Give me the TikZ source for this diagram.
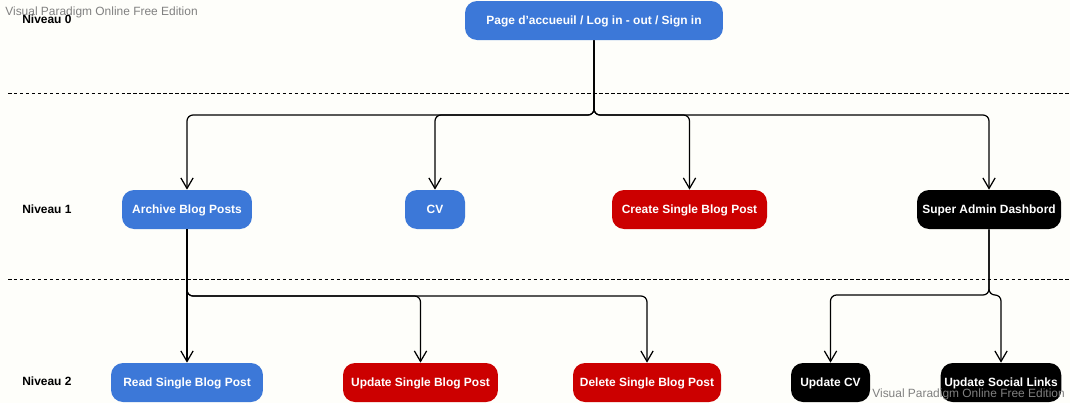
\documentclass[tikz,border=0pt]{standalone}
\usepackage{fontspec}
\setmainfont{Liberation Sans}
\usetikzlibrary{arrows.meta,positioning}
\definecolor{vpblue}{RGB}{60,120,216}
\definecolor{vpred}{RGB}{204,0,0}
\definecolor{vpback}{RGB}{254,254,250}
\definecolor{vpgray}{RGB}{128,128,128}

\begin{document}
\begin{tikzpicture}[x=0.02cm, y=-0.02cm,
  page/.style={rectangle, rounded corners=0.24cm, text=white, font=\fontsize{6.8}{8}\selectfont\bfseries, minimum height=0.78cm, inner xsep=2pt, text height=4.9pt, text depth=0pt},
  bluepage/.style={page, fill=vpblue},
  redpage/.style={page, fill=vpred},
  blackpage/.style={page, fill=black},
  level/.style={anchor=west, inner sep=0pt, font=\fontsize{6.8}{8}\selectfont\bfseries},
  watermark/.style={anchor=west, inner sep=0pt, text=vpgray, font=\fontsize{6.8}{8}\selectfont},
  separator/.style={line width=0.5pt, dash pattern=on 2pt off 1.4pt},
  arrow/.style={line width=0.7pt, -{Straight Barb[length=6pt,width=7pt]}, rounded corners=0.12cm}
]
  \useasboundingbox[fill=vpback] (0,0) rectangle (1070,403);

  % levels
  \node[level] (niv0) at (22,19) {Niveau 0};
  \node[level] (niv1) at (22,209) {Niveau 1};
  \node[level] (niv2) at (22,381) {Niveau 2};
  \draw[separator] (8,93) -- (1070,93);
  \draw[separator] (8,279) -- (1070,279);

  % level 0
  \node[bluepage, minimum width=5.16cm] (home) at (594,20.5) {Page d'accueuil / Log in - out / Sign in};

  % level 1
  \node[bluepage, minimum width=2.6cm] (archive) at (187,209.5) {Archive Blog Posts};
  \node[bluepage, minimum width=1.2cm] (cv) at (435,209.5) {CV};
  \node[redpage, minimum width=3.1cm] (create) at (689.5,209.5) {Create Single Blog Post};
  \node[blackpage, minimum width=2.88cm] (admin) at (989,209.5) {Super Admin Dashbord};

  % level 2
  \node[bluepage, minimum width=3.04cm] (read) at (187,382.5) {Read Single Blog Post};
  \node[redpage, minimum width=3.1cm] (update) at (420.5,382.5) {Update Single Blog Post};
  \node[redpage, minimum width=2.96cm] (delete) at (647,382.5) {Delete Single Blog Post};
  \node[blackpage, minimum width=1.58cm] (updatecv) at (830.5,382.5) {Update CV};
  \node[blackpage, minimum width=2.4cm] (social) at (1001,382.5) {Update Social Links};

  % connectors
  \coordinate (bus0) at (594,115);
  \coordinate (bus1) at (187,296);
  \coordinate (bus2) at (989,295);
  \foreach \n in {archive,cv,create,admin}
    \draw[arrow] (home.south) -- (bus0) -| (\n.north);
  \draw[arrow] (archive.south) -- (read.north);
  \foreach \n in {update,delete}
    \draw[arrow] (archive.south) -- (bus1) -| (\n.north);
  \foreach \n in {updatecv,social}
    \draw[arrow] (admin.south) -- (bus2) -| (\n.north);

  % watermarks
  \node[watermark] (wm1) at (5,12) {Visual Paradigm Online Free Edition};
  \node[watermark] (wm2) at (872,394) {Visual Paradigm Online Free Edition};
\end{tikzpicture}
\end{document}
